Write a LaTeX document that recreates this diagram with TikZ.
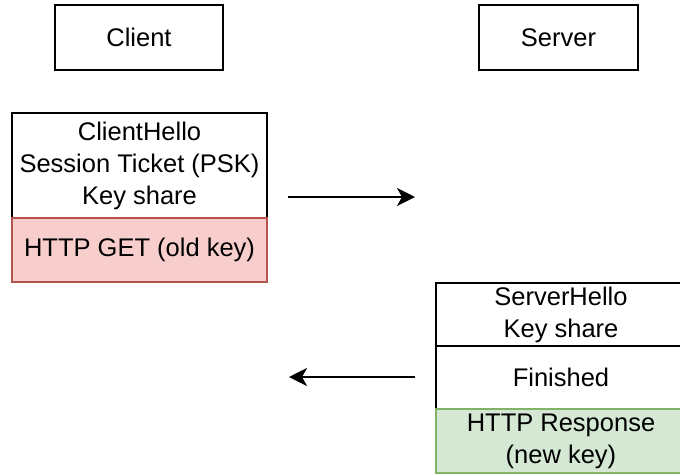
\documentclass[tikz,border=0pt]{standalone}
\usepackage{fontspec}
\setmainfont{Liberation Sans}
\usetikzlibrary{arrows.meta}
\definecolor{redfill}{HTML}{F8CECC}
\definecolor{redline}{HTML}{B85450}
\definecolor{greenfill}{HTML}{D5E8D4}
\definecolor{greenline}{HTML}{82B366}
\tikzset{
  box/.style={draw=black, line width=1.5pt, rectangle, inner sep=0pt, align=center,
    font=\fontsize{25.5}{32}\selectfont},
  redbox/.style={box, draw=redline, fill=redfill},
  greenbox/.style={box, draw=greenline, fill=greenfill},
  msg/.style={line width=2pt, -{Stealth[length=18pt, width=18pt, inset=5pt]}}
}
\begin{document}
\begin{tikzpicture}[x=1pt, y=-1pt]
\useasboundingbox (0,0) rectangle (680,475);
\begin{scope}
\clip (0,0) rectangle (680,475);
\node[box, minimum width=168pt, minimum height=65pt] (client) at (139,37.5) {Client};
\node[box, minimum width=159pt, minimum height=65pt] (server) at (558.5,37.5) {Server};

\node[box, minimum width=255pt, minimum height=105pt] (ch) at (139.5,165.5)
  {ClientHello\\Session Ticket (PSK)\\Key share};
\node[redbox, minimum width=255pt, minimum height=64pt] (get) at (139.5,250)
  {HTTP GET (old key)};

\node[box, minimum width=250pt, minimum height=63pt] (sh) at (561,314.5)
  {ServerHello\\Key share};
\node[box, minimum width=250pt, minimum height=63pt] (fin) at (561,377.5)
  {Finished};
\node[greenbox, minimum width=250pt, minimum height=64pt] (resp) at (561,441)
  {HTTP Response\\(new key)};

\coordinate (a1s) at (288,197);
\coordinate (a1e) at (415,197);
\coordinate (a2s) at (415,377);
\coordinate (a2e) at (289,377);
\draw[msg] (a1s) -- (a1e);
\draw[msg] (a2s) -- (a2e);
\end{scope}
\end{tikzpicture}
\end{document}
